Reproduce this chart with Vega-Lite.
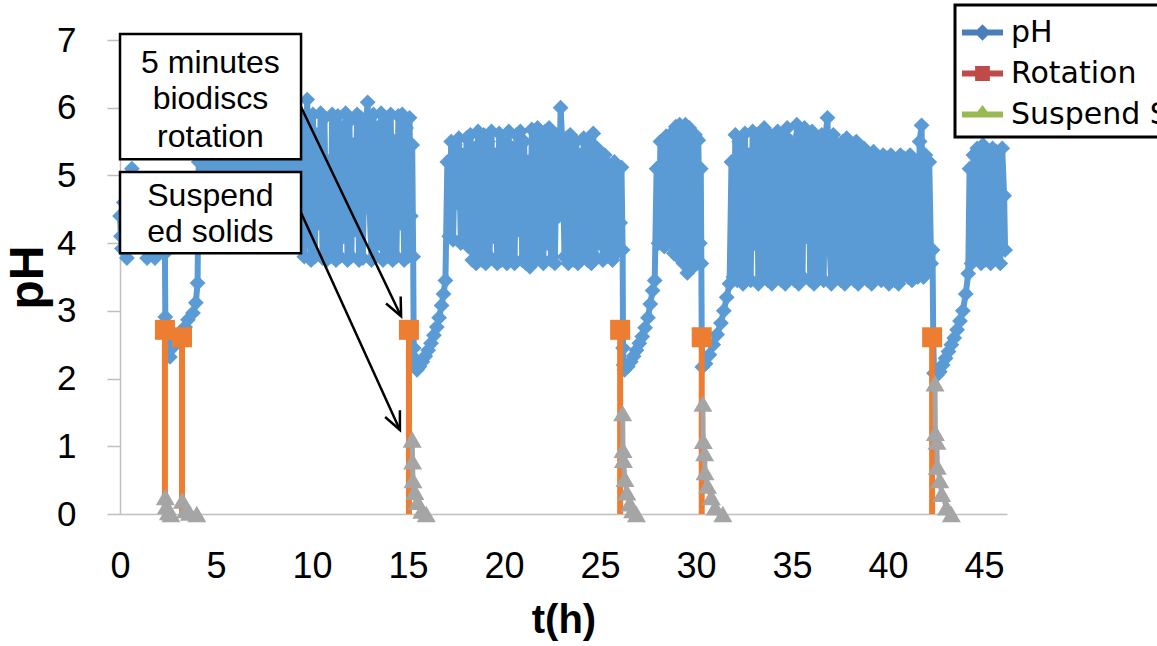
{
  "$schema": "https://vega.github.io/schema/vega-lite/v6.json",
  "width": 887,
  "height": 474,
  "autosize": {"type": "none"},
  "padding": {"left": 120, "top": 40, "right": 150, "bottom": 132},
  "background": "white",
  "config": {
    "view": {"stroke": null},
    "font": "Liberation Sans",
    "legend": {"strokeWidth": 3, "orient": "none", "legendX": 835, "legendY": -35, "direction": "vertical",
      "labelFont": "DejaVu Sans", "labelFontSize": 30, "labelColor": "black", "labelLimit": 600,
      "symbolSize": 1681, "symbolStrokeWidth": 0, "symbolOpacity": 1, "padding": 7,
      "strokeColor": "black", "fillColor": "white", "rowPadding": 5, "labelOffset": 8}
  },
  "datasets": {
    "ph": [
      {"t":0,"pH":4.4},{"t":0.05,"pH":4.1},{"t":0.1,"pH":3.92},{"t":0.2,"pH":4.6},{"t":0.3,"pH":4.0},{"t":0.36,"pH":3.78},{"t":0.45,"pH":4.7},{"t":0.55,"pH":4.0},{"t":0.62,"pH":5.1},{"t":0.72,"pH":3.95},{"t":0.82,"pH":4.8},{"t":0.92,"pH":4.0},{"t":1.02,"pH":4.9},{"t":1.12,"pH":3.95},{"t":1.22,"pH":4.7},{"t":1.32,"pH":4.0},{"t":1.41,"pH":3.78},{"t":1.5,"pH":4.8},{"t":1.6,"pH":3.95},{"t":1.7,"pH":4.9},{"t":1.82,"pH":3.78},{"t":1.92,"pH":4.8},{"t":2.02,"pH":3.95},{"t":2.12,"pH":4.7},{"t":2.22,"pH":4.0},{"t":2.3,"pH":4.6},{"t":2.34,"pH":3.85},
      {"t":2.36,"pH":2.91},{"t":2.6,"pH":2.32},{"t":2.71,"pH":2.45},{"t":2.86,"pH":2.57},{"t":3.0,"pH":2.62},{"t":3.13,"pH":2.67},{"t":3.28,"pH":2.72},{"t":3.39,"pH":2.76},{"t":3.54,"pH":2.87},{"t":3.8,"pH":2.97},{"t":3.95,"pH":3.12},{"t":4.04,"pH":3.41},
      {"t":4.1,"pH":5.2},{"t":4.2,"pH":4.0},{"t":4.3,"pH":5.5},{"t":4.4,"pH":4.1},{"t":4.5,"pH":5.7},{"t":4.6,"pH":3.95},{"t":4.7,"pH":5.4},{"t":4.8,"pH":4.5},{"t":4.9,"pH":5.8},{"t":5.0,"pH":3.95},{"t":5.1,"pH":5.6},{"t":5.2,"pH":4.0},{"t":5.3,"pH":5.9},{"t":5.4,"pH":4.2},{"t":5.5,"pH":5.5},{"t":5.6,"pH":3.95},{"t":5.7,"pH":5.8},{"t":5.8,"pH":4.6},{"t":5.9,"pH":4.0},{"t":6.0,"pH":5.7},{"t":6.1,"pH":3.95},{"t":6.2,"pH":5.9},{"t":6.3,"pH":4.1},{"t":6.4,"pH":5.5},{"t":6.5,"pH":3.95},{"t":6.6,"pH":5.8},{"t":6.7,"pH":4.4},{"t":6.8,"pH":5.6},{"t":6.9,"pH":4.0},{"t":7.0,"pH":5.9},{"t":7.1,"pH":3.95},{"t":7.2,"pH":5.4},{"t":7.3,"pH":4.1},{"t":7.4,"pH":5.8},{"t":7.5,"pH":5.0},{"t":7.6,"pH":3.95},{"t":7.7,"pH":5.7},{"t":7.8,"pH":4.0},{"t":7.9,"pH":5.9},{"t":8.0,"pH":4.2},{"t":8.1,"pH":5.6},{"t":8.2,"pH":3.95},{"t":8.3,"pH":5.8},{"t":8.4,"pH":4.5},{"t":8.5,"pH":5.5},{"t":8.6,"pH":3.95},{"t":8.7,"pH":5.9},{"t":8.8,"pH":4.0},{"t":8.9,"pH":5.7},{"t":9.0,"pH":4.1},{"t":9.1,"pH":5.8},{"t":9.2,"pH":3.95},{"t":9.3,"pH":5.6},{"t":9.4,"pH":4.0},{"t":9.5,"pH":5.85},{"t":9.6,"pH":3.8},{"t":9.75,"pH":6.12},{"t":9.85,"pH":4.5},{"t":9.95,"pH":3.75},{"t":10.05,"pH":5.9},{"t":10.15,"pH":3.8},{"t":10.25,"pH":5.6},{"t":10.35,"pH":4.3},{"t":10.45,"pH":5.92},{"t":10.55,"pH":3.78},{"t":10.65,"pH":5.85},{"t":10.75,"pH":3.75},{"t":10.85,"pH":5.2},{"t":10.95,"pH":3.8},{"t":11.05,"pH":5.9},{"t":11.15,"pH":4.9},{"t":11.25,"pH":3.75},{"t":11.35,"pH":5.88},{"t":11.45,"pH":3.8},{"t":11.55,"pH":5.7},{"t":11.65,"pH":4.1},{"t":11.75,"pH":5.92},{"t":11.85,"pH":3.75},{"t":11.95,"pH":5.8},{"t":12.05,"pH":3.8},{"t":12.15,"pH":5.45},{"t":12.25,"pH":4.2},{"t":12.35,"pH":5.9},{"t":12.45,"pH":3.75},{"t":12.55,"pH":5.85},{"t":12.65,"pH":3.78},{"t":12.75,"pH":5.6},{"t":12.9,"pH":6.08},{"t":13.0,"pH":4.5},{"t":13.1,"pH":3.75},{"t":13.2,"pH":5.9},{"t":13.3,"pH":3.8},{"t":13.4,"pH":5.7},{"t":13.5,"pH":4.0},{"t":13.6,"pH":5.92},{"t":13.7,"pH":3.75},{"t":13.8,"pH":5.85},{"t":13.9,"pH":4.6},{"t":14.0,"pH":3.8},{"t":14.1,"pH":5.9},{"t":14.2,"pH":3.75},{"t":14.3,"pH":5.5},{"t":14.4,"pH":3.8},{"t":14.5,"pH":5.88},{"t":14.6,"pH":4.3},{"t":14.7,"pH":5.9},{"t":14.8,"pH":3.75},{"t":14.9,"pH":5.7},{"t":15.0,"pH":3.8},{"t":15.08,"pH":5.85},{"t":15.15,"pH":4.4},{"t":15.22,"pH":5.45},{"t":15.27,"pH":3.8},
      {"t":15.3,"pH":2.45},{"t":15.33,"pH":2.3},{"t":15.38,"pH":2.2},{"t":15.47,"pH":2.13},{"t":15.6,"pH":2.18},{"t":15.75,"pH":2.25},{"t":15.9,"pH":2.33},{"t":16.05,"pH":2.42},{"t":16.2,"pH":2.52},{"t":16.35,"pH":2.64},{"t":16.5,"pH":2.76},{"t":16.62,"pH":2.9},{"t":16.75,"pH":3.08},{"t":16.85,"pH":3.25},{"t":16.95,"pH":3.45},
      {"t":17.05,"pH":5.2},{"t":17.15,"pH":4.1},{"t":17.25,"pH":5.5},{"t":17.35,"pH":4.05},{"t":17.45,"pH":5.45},{"t":17.55,"pH":4.6},{"t":17.65,"pH":5.55},{"t":17.75,"pH":4.0},{"t":17.85,"pH":5.3},{"t":17.95,"pH":4.1},{"t":18.05,"pH":5.55},{"t":18.15,"pH":3.95},{"t":18.25,"pH":5.6},{"t":18.35,"pH":3.75},{"t":18.45,"pH":5.4},{"t":18.55,"pH":3.7},{"t":18.65,"pH":5.65},{"t":18.75,"pH":4.4},{"t":18.85,"pH":3.75},{"t":18.95,"pH":5.6},{"t":19.05,"pH":3.7},{"t":19.15,"pH":5.5},{"t":19.25,"pH":3.8},{"t":19.35,"pH":5.65},{"t":19.45,"pH":4.1},{"t":19.55,"pH":5.3},{"t":19.65,"pH":3.7},{"t":19.75,"pH":5.62},{"t":19.85,"pH":3.75},{"t":19.95,"pH":5.5},{"t":20.05,"pH":4.6},{"t":20.15,"pH":3.7},{"t":20.25,"pH":5.65},{"t":20.35,"pH":3.8},{"t":20.45,"pH":5.4},{"t":20.55,"pH":3.7},{"t":20.65,"pH":5.6},{"t":20.75,"pH":4.2},{"t":20.85,"pH":5.65},{"t":20.95,"pH":3.75},{"t":21.05,"pH":5.5},{"t":21.15,"pH":3.7},{"t":21.25,"pH":5.2},{"t":21.35,"pH":3.65},{"t":21.45,"pH":5.68},{"t":21.55,"pH":4.5},{"t":21.65,"pH":3.75},{"t":21.75,"pH":5.7},{"t":21.85,"pH":3.8},{"t":21.95,"pH":5.55},{"t":22.05,"pH":3.7},{"t":22.15,"pH":5.65},{"t":22.25,"pH":4.0},{"t":22.35,"pH":5.7},{"t":22.45,"pH":3.75},{"t":22.55,"pH":5.5},{"t":22.65,"pH":3.7},{"t":22.75,"pH":5.6},{"t":22.85,"pH":4.4},{"t":22.95,"pH":6.0},{"t":23.05,"pH":5.4},{"t":23.15,"pH":3.8},{"t":23.25,"pH":5.55},{"t":23.35,"pH":3.7},{"t":23.45,"pH":5.6},{"t":23.55,"pH":4.2},{"t":23.65,"pH":3.75},{"t":23.75,"pH":5.5},{"t":23.85,"pH":3.7},{"t":23.95,"pH":5.3},{"t":24.05,"pH":3.8},{"t":24.15,"pH":5.55},{"t":24.25,"pH":4.3},{"t":24.35,"pH":3.75},{"t":24.45,"pH":5.5},{"t":24.55,"pH":3.7},{"t":24.65,"pH":5.62},{"t":24.75,"pH":3.8},{"t":24.85,"pH":5.4},{"t":24.95,"pH":4.0},{"t":25.05,"pH":5.2},{"t":25.15,"pH":3.75},{"t":25.25,"pH":5.3},{"t":25.35,"pH":3.8},{"t":25.45,"pH":5.15},{"t":25.55,"pH":4.5},{"t":25.65,"pH":3.75},{"t":25.75,"pH":5.2},{"t":25.85,"pH":3.85},{"t":25.95,"pH":5.1},{"t":26.05,"pH":4.3},{"t":26.12,"pH":5.12},{"t":26.18,"pH":3.9},
      {"t":26.2,"pH":2.45},{"t":26.23,"pH":2.2},{"t":26.28,"pH":2.13},{"t":26.45,"pH":2.18},{"t":26.6,"pH":2.25},{"t":26.75,"pH":2.33},{"t":26.9,"pH":2.42},{"t":27.05,"pH":2.52},{"t":27.2,"pH":2.62},{"t":27.35,"pH":2.75},{"t":27.5,"pH":2.9},{"t":27.62,"pH":3.1},{"t":27.74,"pH":3.3},{"t":27.85,"pH":3.45},
      {"t":27.95,"pH":5.1},{"t":28.05,"pH":4.0},{"t":28.15,"pH":5.5},{"t":28.25,"pH":4.7},{"t":28.35,"pH":3.95},{"t":28.45,"pH":5.58},{"t":28.55,"pH":4.0},{"t":28.65,"pH":5.6},{"t":28.75,"pH":4.6},{"t":28.85,"pH":3.85},{"t":28.95,"pH":5.72},{"t":29.05,"pH":3.8},{"t":29.15,"pH":5.75},{"t":29.25,"pH":4.3},{"t":29.35,"pH":3.7},{"t":29.45,"pH":5.75},{"t":29.55,"pH":3.56},{"t":29.65,"pH":5.7},{"t":29.75,"pH":4.4},{"t":29.85,"pH":3.65},{"t":29.95,"pH":5.6},{"t":30.05,"pH":3.7},{"t":30.12,"pH":5.52},{"t":30.2,"pH":4.0},{"t":30.25,"pH":5.1},{"t":30.28,"pH":3.7},
      {"t":30.3,"pH":2.55},{"t":30.33,"pH":2.17},{"t":30.5,"pH":2.22},{"t":30.7,"pH":2.35},{"t":30.9,"pH":2.5},{"t":31.1,"pH":2.65},{"t":31.3,"pH":2.82},{"t":31.45,"pH":3.0},{"t":31.6,"pH":3.2},{"t":31.75,"pH":3.4},
      {"t":31.85,"pH":5.2},{"t":31.95,"pH":3.5},{"t":32.05,"pH":5.6},{"t":32.15,"pH":3.45},{"t":32.25,"pH":5.5},{"t":32.35,"pH":4.4},{"t":32.45,"pH":3.4},{"t":32.55,"pH":5.62},{"t":32.65,"pH":3.5},{"t":32.75,"pH":5.3},{"t":32.85,"pH":3.45},{"t":32.95,"pH":5.65},{"t":33.05,"pH":4.0},{"t":33.15,"pH":5.6},{"t":33.25,"pH":3.4},{"t":33.35,"pH":5.55},{"t":33.45,"pH":3.5},{"t":33.55,"pH":5.7},{"t":33.65,"pH":4.6},{"t":33.75,"pH":3.45},{"t":33.85,"pH":5.6},{"t":33.95,"pH":3.4},{"t":34.05,"pH":5.5},{"t":34.15,"pH":3.5},{"t":34.25,"pH":5.65},{"t":34.35,"pH":4.2},{"t":34.45,"pH":3.45},{"t":34.55,"pH":5.6},{"t":34.65,"pH":3.4},{"t":34.75,"pH":5.7},{"t":34.85,"pH":3.5},{"t":34.95,"pH":5.5},{"t":35.05,"pH":4.5},{"t":35.15,"pH":3.45},{"t":35.25,"pH":5.75},{"t":35.35,"pH":3.4},{"t":35.45,"pH":5.6},{"t":35.55,"pH":3.5},{"t":35.65,"pH":5.7},{"t":35.75,"pH":4.1},{"t":35.85,"pH":5.55},{"t":35.95,"pH":3.45},{"t":36.05,"pH":5.65},{"t":36.15,"pH":3.4},{"t":36.25,"pH":5.5},{"t":36.35,"pH":4.7},{"t":36.45,"pH":3.5},{"t":36.55,"pH":5.6},{"t":36.65,"pH":3.45},{"t":36.75,"pH":5.6},{"t":36.85,"pH":5.85},{"t":36.95,"pH":4.0},{"t":37.05,"pH":3.4},{"t":37.15,"pH":5.6},{"t":37.25,"pH":3.5},{"t":37.35,"pH":5.45},{"t":37.45,"pH":4.4},{"t":37.55,"pH":3.45},{"t":37.65,"pH":5.5},{"t":37.75,"pH":3.4},{"t":37.85,"pH":5.55},{"t":37.95,"pH":3.5},{"t":38.05,"pH":5.4},{"t":38.15,"pH":4.2},{"t":38.25,"pH":3.45},{"t":38.35,"pH":5.5},{"t":38.45,"pH":3.4},{"t":38.55,"pH":5.35},{"t":38.65,"pH":3.5},{"t":38.75,"pH":5.4},{"t":38.85,"pH":4.6},{"t":38.95,"pH":3.45},{"t":39.05,"pH":5.3},{"t":39.15,"pH":3.4},{"t":39.25,"pH":5.35},{"t":39.35,"pH":3.5},{"t":39.45,"pH":5.2},{"t":39.55,"pH":4.0},{"t":39.65,"pH":3.45},{"t":39.75,"pH":5.3},{"t":39.85,"pH":3.5},{"t":39.95,"pH":5.25},{"t":40.05,"pH":3.4},{"t":40.15,"pH":5.3},{"t":40.25,"pH":4.5},{"t":40.35,"pH":3.45},{"t":40.45,"pH":5.2},{"t":40.55,"pH":3.4},{"t":40.65,"pH":5.3},{"t":40.75,"pH":3.5},{"t":40.85,"pH":5.25},{"t":40.95,"pH":4.1},{"t":41.05,"pH":3.5},{"t":41.15,"pH":5.3},{"t":41.25,"pH":3.45},{"t":41.35,"pH":5.2},{"t":41.45,"pH":4.4},{"t":41.55,"pH":3.5},{"t":41.65,"pH":5.5},{"t":41.75,"pH":5.74},{"t":41.85,"pH":3.5},{"t":41.95,"pH":5.3},{"t":42.05,"pH":3.6},{"t":42.15,"pH":5.2},{"t":42.25,"pH":3.7},{"t":42.32,"pH":3.9},
      {"t":42.36,"pH":2.55},{"t":42.4,"pH":2.08},{"t":42.55,"pH":2.05},{"t":42.7,"pH":2.1},{"t":42.85,"pH":2.2},{"t":43.0,"pH":2.3},{"t":43.15,"pH":2.4},{"t":43.3,"pH":2.5},{"t":43.45,"pH":2.6},{"t":43.6,"pH":2.72},{"t":43.75,"pH":2.85},{"t":43.9,"pH":3.0},{"t":44.05,"pH":3.25},{"t":44.18,"pH":3.55},
      {"t":44.25,"pH":5.1},{"t":44.35,"pH":3.7},{"t":44.45,"pH":5.3},{"t":44.55,"pH":3.8},{"t":44.65,"pH":5.4},{"t":44.75,"pH":4.5},{"t":44.85,"pH":3.7},{"t":44.95,"pH":5.45},{"t":45.05,"pH":3.75},{"t":45.15,"pH":5.3},{"t":45.25,"pH":4.2},{"t":45.35,"pH":3.7},{"t":45.45,"pH":5.4},{"t":45.55,"pH":3.8},{"t":45.65,"pH":5.35},{"t":45.75,"pH":4.6},{"t":45.85,"pH":3.7},{"t":45.95,"pH":5.4},{"t":46.05,"pH":4.7},{"t":46.1,"pH":3.9}
    ],
    "rot": [
      {"e":1,"t":2.34,"v":2.72},{"e":1,"t":2.34,"v":0},
      {"e":2,"t":3.23,"v":2.61},{"e":2,"t":3.23,"v":0},
      {"e":3,"t":15.05,"v":2.72},{"e":3,"t":15.05,"v":0},
      {"e":4,"t":26.05,"v":2.72},{"e":4,"t":26.05,"v":0},
      {"e":5,"t":30.3,"v":2.61},{"e":5,"t":30.3,"v":0},
      {"e":6,"t":42.3,"v":2.61},{"e":6,"t":42.3,"v":0}
    ],
    "ss": [
      {"e":1,"t":2.36,"v":0.25},{"e":1,"t":2.42,"v":0.12},{"e":1,"t":2.52,"v":0.03},{"e":1,"t":2.65,"v":0},
      {"e":2,"t":3.25,"v":0.2},{"e":2,"t":3.42,"v":0.06},{"e":2,"t":3.62,"v":0.02},{"e":2,"t":4.0,"v":0},
      {"e":3,"t":15.22,"v":1.1},{"e":3,"t":15.24,"v":0.78},{"e":3,"t":15.26,"v":0.5},{"e":3,"t":15.36,"v":0.33},{"e":3,"t":15.5,"v":0.18},{"e":3,"t":15.72,"v":0.05},{"e":3,"t":15.95,"v":0},
      {"e":4,"t":26.18,"v":1.49},{"e":4,"t":26.2,"v":0.95},{"e":4,"t":26.22,"v":0.8},{"e":4,"t":26.3,"v":0.52},{"e":4,"t":26.4,"v":0.32},{"e":4,"t":26.55,"v":0.16},{"e":4,"t":26.7,"v":0.06},{"e":4,"t":26.9,"v":0},
      {"e":5,"t":30.36,"v":1.63},{"e":5,"t":30.38,"v":1.08},{"e":5,"t":30.45,"v":0.9},{"e":5,"t":30.47,"v":0.62},{"e":5,"t":30.6,"v":0.42},{"e":5,"t":30.8,"v":0.25},{"e":5,"t":31.0,"v":0.1},{"e":5,"t":31.4,"v":0},
      {"e":6,"t":42.45,"v":1.93},{"e":6,"t":42.47,"v":1.2},{"e":6,"t":42.55,"v":1.07},{"e":6,"t":42.57,"v":0.7},{"e":6,"t":42.7,"v":0.5},{"e":6,"t":42.8,"v":0.3},{"e":6,"t":43.05,"v":0.1},{"e":6,"t":43.3,"v":0}
    ],
    "boxes": [
      {"t1":0,"t2":9.43,"v1":5.24,"v2":7.09},
      {"t1":0,"t2":9.43,"v1":3.85,"v2":5.05}
    ],
    "notes": [
      {"lbl":"5 minutes","t":4.71,"v":6.66},
      {"lbl":"biodiscs","t":4.71,"v":6.13},
      {"lbl":"rotation","t":4.71,"v":5.57},
      {"lbl":"Suspend","t":4.71,"v":4.70},
      {"lbl":"ed solids","t":4.71,"v":4.16}
    ],
    "arrows": [
      {"id":1,"t1":9.43,"v1":6.01,"t2":14.64,"v2":2.92},
      {"id":2,"t1":9.43,"v1":4.45,"t2":14.58,"v2":1.24}
    ],
    "leg": [{"s":"pH"},{"s":"Rotation"},{"s":"Suspend S."}]
  },
  "layer": [
    {
      "data": {"name": "ph"},
      "mark": {"type": "line", "color": "#5B9BD5", "strokeWidth": 6, "strokeJoin": "round"},
      "encoding": {
        "x": {"field": "t", "type": "quantitative", "title": "t(h)",
          "scale": {"domain": [0, 46.2], "nice": false, "zero": false},
          "axis": {"values": [0,5,10,15,20,25,30,35,40,45], "grid": false, "ticks": false, "tickSize": 0,
            "domainColor": "#BFBFBF", "domainWidth": 1.5, "labelFont": "Liberation Sans", "labelFontSize": 36,
            "labelColor": "black", "labelPadding": 35, "labelFlush": false, "labelOverlap": false, "format": "d",
            "titleFont": "Liberation Sans", "titleFontSize": 40, "titleFontWeight": "bold", "titleColor": "black", "titlePadding": 16}},
        "y": {"field": "pH", "type": "quantitative", "title": "pH",
          "scale": {"domain": [0, 7], "nice": false},
          "axis": {"values": [0,1,2,3,4,5,6,7], "grid": false, "ticks": true, "tickSize": 13, "tickColor": "#BFBFBF", "tickWidth": 1.5,
            "domainColor": "#BFBFBF", "domainWidth": 1.5, "labelFont": "Liberation Sans", "labelFontSize": 35,
            "labelColor": "black", "labelPadding": 31, "format": "d",
            "titleFont": "Liberation Sans", "titleFontSize": 48, "titleFontWeight": "bold", "titleColor": "black", "titlePadding": 4}}
      }
    },
    {
      "data": {"name": "ph"},
      "mark": {"type": "point", "shape": "diamond", "size": 250, "filled": true, "color": "#5B9BD5", "opacity": 1},
      "encoding": {
        "x": {"field": "t", "type": "quantitative", "title": "t(h)"},
        "y": {"field": "pH", "type": "quantitative", "title": "pH"}
      }
    },
    {
      "data": {"name": "rot"},
      "mark": {"type": "line", "color": "#ED7D31", "strokeWidth": 6},
      "encoding": {
        "x": {"field": "t", "type": "quantitative", "title": "t(h)"},
        "y": {"field": "v", "type": "quantitative", "title": "pH"},
        "detail": {"field": "e"}
      }
    },
    {
      "data": {"name": "rot"},
      "transform": [{"filter": "datum.v > 0"}],
      "mark": {"type": "point", "shape": "square", "size": 400, "filled": true, "color": "#ED7D31", "opacity": 1},
      "encoding": {
        "x": {"field": "t", "type": "quantitative", "title": "t(h)"},
        "y": {"field": "v", "type": "quantitative", "title": "pH"}
      }
    },
    {
      "data": {"name": "ss"},
      "mark": {"type": "line", "color": "#A5A5A5", "strokeWidth": 5},
      "encoding": {
        "x": {"field": "t", "type": "quantitative", "title": "t(h)"},
        "y": {"field": "v", "type": "quantitative", "title": "pH"},
        "detail": {"field": "e"}
      }
    },
    {
      "data": {"name": "ss"},
      "mark": {"type": "point", "shape": "triangle-up", "size": 361, "filled": true, "color": "#A5A5A5", "opacity": 1},
      "encoding": {
        "x": {"field": "t", "type": "quantitative", "title": "t(h)"},
        "y": {"field": "v", "type": "quantitative", "title": "pH"}
      }
    },
    {
      "data": {"name": "boxes"},
      "mark": {"type": "rect", "fill": "white", "stroke": "black", "strokeWidth": 2.5},
      "encoding": {
        "x": {"field": "t1", "type": "quantitative", "title": "t(h)"},
        "x2": {"field": "t2"},
        "y": {"field": "v1", "type": "quantitative", "title": "pH"},
        "y2": {"field": "v2"}
      }
    },
    {
      "data": {"name": "notes"},
      "mark": {"type": "text", "font": "Liberation Sans", "fontSize": 32, "color": "black", "align": "center", "baseline": "middle"},
      "encoding": {
        "x": {"field": "t", "type": "quantitative", "title": "t(h)"},
        "y": {"field": "v", "type": "quantitative", "title": "pH"},
        "text": {"field": "lbl"}
      }
    },
    {
      "data": {"name": "arrows"},
      "mark": {"type": "rule", "color": "black", "strokeWidth": 2.5},
      "encoding": {
        "x": {"field": "t1", "type": "quantitative", "title": "t(h)"},
        "x2": {"field": "t2"},
        "y": {"field": "v1", "type": "quantitative", "title": "pH"},
        "y2": {"field": "v2"}
      }
    },
    {
      "data": {"name": "arrows"},
      "transform": [{"filter": "datum.id == 1"}],
      "mark": {"type": "point", "shape": "M-0.45,1L0,0L0.45,1", "size": 1296, "filled": false, "color": "black", "strokeWidth": 2.5, "opacity": 1, "angle": 154.65},
      "encoding": {
        "x": {"field": "t2", "type": "quantitative", "title": "t(h)"},
        "y": {"field": "v2", "type": "quantitative", "title": "pH"}
      }
    },
    {
      "data": {"name": "arrows"},
      "transform": [{"filter": "datum.id == 2"}],
      "mark": {"type": "point", "shape": "M-0.45,1L0,0L0.45,1", "size": 1296, "filled": false, "color": "black", "strokeWidth": 2.5, "opacity": 1, "angle": 155.7},
      "encoding": {
        "x": {"field": "t2", "type": "quantitative", "title": "t(h)"},
        "y": {"field": "v2", "type": "quantitative", "title": "pH"}
      }
    },
    {
      "data": {"name": "leg"},
      "mark": {"type": "point", "filled": true, "opacity": 0},
      "encoding": {
        "color": {"field": "s", "type": "nominal",
          "scale": {"domain": ["pH", "Rotation", "Suspend S."], "range": ["#4A7EBB", "#BE4B48", "#98B954"]},
          "legend": {"title": null, "symbolOpacity": 1}},
        "shape": {"field": "s", "type": "nominal",
          "scale": {"domain": ["pH", "Rotation", "Suspend S."],
            "range": ["M-1,-0.15H1V0.15H-1Z M0,-0.4L0.4,0L0,0.4L-0.4,0Z",
                      "M-1,-0.15H1V0.15H-1Z M-0.36,-0.36H0.36V0.36H-0.36Z",
                      "M-1,-0.15H1V0.15H-1Z M0,-0.46L0.46,0.15H-0.46Z"]},
          "legend": {"title": null, "symbolOpacity": 1}}
      }
    }
  ]
}
